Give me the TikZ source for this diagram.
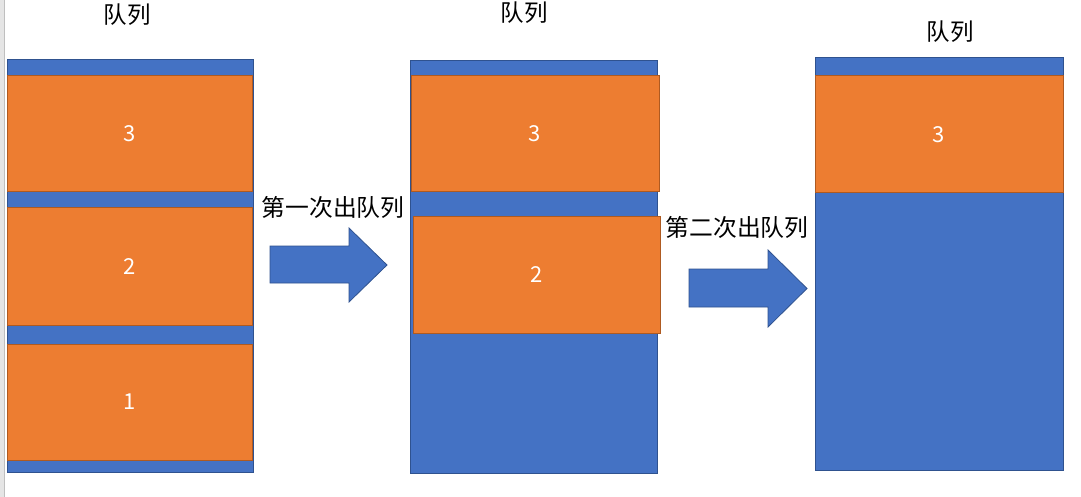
\documentclass[tikz,border=0pt]{standalone}
\usepackage{fontspec}
\setmainfont{Noto Sans CJK SC}
\usetikzlibrary{positioning}
\definecolor{qblue}{HTML}{4472C4}
\definecolor{qblueline}{HTML}{2F528F}
\definecolor{qorange}{HTML}{ED7D31}
\definecolor{qorangeline}{HTML}{AE5A21}
\tikzset{
  queuebox/.style={draw=qblueline, fill=qblue, line width=1pt, inner sep=0pt, outer sep=0pt},
  itembox/.style={draw=qorangeline, fill=qorange, line width=1pt, inner sep=0pt, outer sep=0pt,
     text=white, font=\fontsize{22}{25}\selectfont},
  titletext/.style={font=\fontsize{23.5}{26}\selectfont, text=black, inner sep=0pt},
  steplabel/.style={font=\fontsize{23.8}{26}\selectfont, text=black, inner sep=0pt},
  bigarrow/.style={draw=qblueline, fill=qblue, line width=0.8pt}
}
\begin{document}
\begin{tikzpicture}[x=1pt,y=-1pt]
\useasboundingbox (0,0) rectangle (1081,497);
\fill[white] (0,0) rectangle (1081,497);
% left window edge
\fill[black!10] (0,0) rectangle (4,497);
\draw[black!25, line width=1pt] (4.5,0) -- (4.5,497);

% column 1
\node[queuebox, minimum width=246pt, minimum height=412pt] (q1) at (130,266) {};
\node[itembox, minimum width=245pt, minimum height=116pt] (a3) at (129.5,134) {3};
\node[itembox, minimum width=245pt, minimum height=117pt] (a2) at (129.5,266.5) {2};
\node[itembox, minimum width=245pt, minimum height=116pt] (a1) at (129.5,402) {1};
\node[titletext] (t1) at (127,15) {队列};

% column 2
\node[queuebox, minimum width=247pt, minimum height=412pt] (q2) at (533.5,267) {};
\node[itembox, minimum width=248pt, minimum height=116pt] (b3) at (535,134) {3};
\node[itembox, minimum width=247pt, minimum height=117pt] (b2) at (536.5,274.5) {2};
\node[titletext] (t2) at (524,13) {队列};

% column 3
\node[queuebox, minimum width=248pt, minimum height=412pt] (q3) at (939,264) {};
\node[itembox, minimum width=248pt, minimum height=117pt] (c3) at (939,134.5) {3};
\node[titletext] (t3) at (950,32) {队列};

% arrows
\draw[bigarrow] (270,246) -- (349,246) -- (349,228) -- (387,265) -- (349,302) -- (349,283) -- (270,283) -- cycle;
\node[steplabel] (l1) at (333,207) {第一次出队列};
\draw[bigarrow] (689,269) -- (768,269) -- (768,250) -- (807,288.5) -- (768,327) -- (768,307) -- (689,307) -- cycle;
\node[steplabel] (l2) at (737,227) {第二次出队列};
\end{tikzpicture}
\end{document}
